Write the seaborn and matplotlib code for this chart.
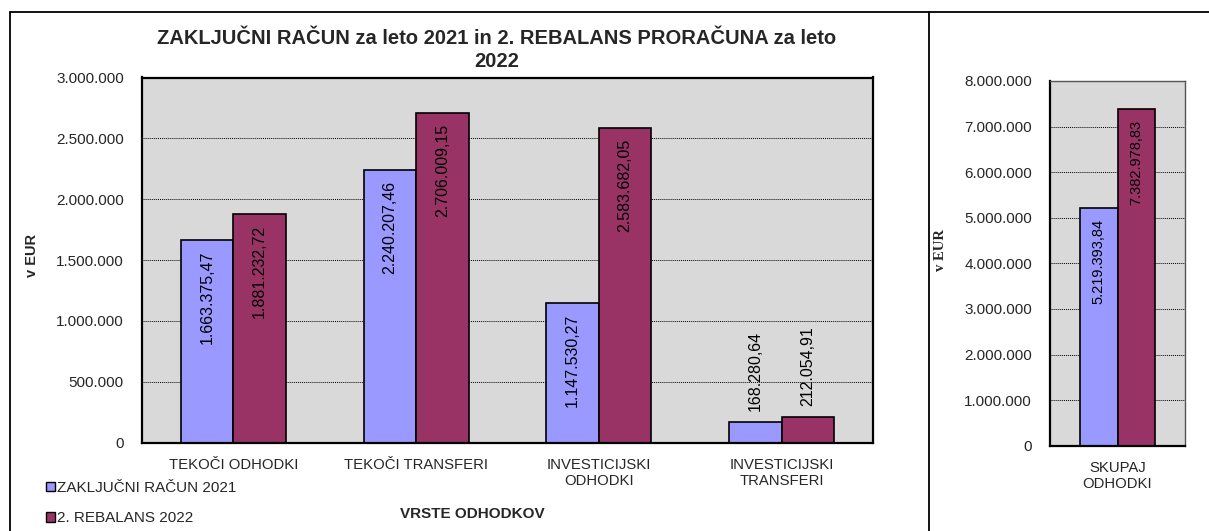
import matplotlib
matplotlib.use("Agg")
import matplotlib.pyplot as plt
import seaborn as sns
import pandas as pd
from matplotlib.ticker import FuncFormatter, FixedLocator
from matplotlib.patches import Patch
from matplotlib.lines import Line2D

# ---------------- data ----------------
categories = ["TEKOČI ODHODKI", "TEKOČI TRANSFERI", "INVESTICIJSKI\nODHODKI", "INVESTICIJSKI\nTRANSFERI"]
series_names = ["ZAKLJUČNI RAČUN 2021", "2. REBALANS 2022"]
zr2021 = [1663375.47, 2240207.46, 1147530.27, 168280.64]
reb2022 = [1881232.72, 2706009.15, 2583682.05, 212054.91]
total_category = ["SKUPAJ\nODHODKI"]
total_zr2021 = [5219393.84]
total_reb2022 = [7382978.83]
left_yticks = [0, 500000, 1000000, 1500000, 2000000, 2500000, 3000000]
right_yticks = [0, 1000000, 2000000, 3000000, 4000000, 5000000, 6000000, 7000000, 8000000]
title_text = "ZAKLJUČNI RAČUN za leto 2021 in 2. REBALANS PRORAČUNA za leto\n2022"
xlabel_text = "VRSTE ODHODKOV"
ylabel_text = "v EUR"

colors = ["#9999FF", "#993366"]

sns.set_style("white")
plt.rcParams["font.family"] = ["Liberation Sans", "DejaVu Sans"]

df_left = pd.DataFrame({
    "kategorija": categories * 2,
    "serija": [series_names[0]] * 4 + [series_names[1]] * 4,
    "vrednost": zr2021 + reb2022,
})
df_right = pd.DataFrame({
    "kategorija": total_category * 2,
    "serija": series_names,
    "vrednost": total_zr2021 + total_reb2022,
})

W, H = 1209, 531
fig = plt.figure(figsize=(W / 100, H / 100), dpi=100)
fig.patch.set_facecolor("white")

def fx(px):
    return px / W

def fy(py):
    return 1 - py / H

ax1 = fig.add_axes([fx(142), fy(442.5), fx(873) - fx(142), fy(77.5) - fy(442.5)])
ax2 = fig.add_axes([fx(1050), fy(445.7), fx(1185) - fx(1050), fy(81) - fy(445.7)])

def fmt_tick(v, _):
    return f"{int(round(v)):,}".replace(",", ".")

def fmt_val(v):
    s = f"{v:,.2f}"
    return s.replace(",", "X").replace(".", ",").replace("X", ".")

def style_axis(ax, df, width, ymax, yticks, label_fs, spine_top_color, spine_top_lw):
    sns.barplot(data=df, x="kategorija", y="vrednost", hue="serija", palette=colors,
                hue_order=series_names, order=list(dict.fromkeys(df["kategorija"])),
                width=width, edgecolor="black", linewidth=1.2, ax=ax, legend=False,
                errorbar=None, saturation=1)
    ax.set_facecolor("#D9D9D9")
    ax.set_ylim(0, ymax)
    n = df["kategorija"].nunique()
    ax.set_xlim(-0.5, n - 0.5)
    ax.yaxis.set_major_locator(FixedLocator(yticks))
    ax.yaxis.set_major_formatter(FuncFormatter(fmt_tick))
    ax.grid(axis="y", color="black", linestyle=(0, (1, 1)), linewidth=0.7)
    ax.set_axisbelow(True)
    ax.tick_params(axis="y", direction="out", length=4, width=1, color="black",
                   labelsize=11, pad=9)
    ax.tick_params(axis="x", which="major", length=0, labelsize=10.7, pad=11)
    ax.set_xticks([i - 0.5 for i in range(n + 1)], minor=True)
    ax.tick_params(axis="x", which="minor", length=5, width=1, color="#777777", direction="out")
    for lbl in ax.get_xticklabels():
        lbl.set_linespacing(1.2)
    ax.set_xlabel("")
    ax.set_ylabel("")
    for s in ["left", "bottom"]:
        ax.spines[s].set_color("black")
        ax.spines[s].set_linewidth(1.6)
    for s in ["top", "right"]:
        ax.spines[s].set_color(spine_top_color)
        ax.spines[s].set_linewidth(spine_top_lw)
    # value labels
    for cont in ax.containers:
        for bar in cont:
            h = bar.get_height()
            xc = bar.get_x() + bar.get_width() / 2
            if h / ymax > 0.3:
                ax.annotate(fmt_val(h), xy=(xc, h), xytext=(0, -11), textcoords="offset pixels",
                            rotation=90, ha="center", va="top", fontsize=label_fs, color="black")
            else:
                ax.annotate(fmt_val(h), xy=(xc, h), xytext=(0, 11), textcoords="offset pixels",
                            rotation=90, ha="center", va="bottom", fontsize=label_fs, color="black")

style_axis(ax1, df_left, 0.575, 3000000, left_yticks, 11.5, "black", 1.6)
style_axis(ax2, df_right, 0.56, 8000000, right_yticks, 10.5, "#555555", 1.0)

# titles / labels
fig.text(fx(497), fy(29), title_text, ha="center", va="top", fontsize=14.5, fontweight="bold",
         linespacing=1.25)
fig.text(fx(472), fy(514), xlabel_text, ha="center", va="center", fontsize=11, fontweight="bold")
fig.text(fx(32), fy(256), ylabel_text, ha="center", va="center", rotation=90, fontsize=10.5,
         fontweight="bold")
fig.text(fx(940), fy(250), ylabel_text, ha="center", va="center", rotation=90, fontsize=10.5,
         fontweight="bold", family=["Liberation Serif", "DejaVu Serif"])

# legend
handles = [Patch(facecolor=c, edgecolor="black", linewidth=1.0) for c in colors]
fig.legend(handles, series_names, loc="upper left", bbox_to_anchor=(fx(46), fy(481)),
           frameon=False, fontsize=11, handlelength=0.6, handleheight=0.6,
           handletextpad=0.15, labelspacing=1.05, borderaxespad=0, borderpad=0)

# outer frame lines
lw = 1.3
fig.add_artist(Line2D([fx(10), 1.0], [fy(12), fy(12)], color="black", linewidth=lw))
fig.add_artist(Line2D([fx(10), fx(10)], [fy(12), 0], color="black", linewidth=lw))
fig.add_artist(Line2D([fx(929), fx(929)], [fy(12), 0], color="black", linewidth=lw))

fig.savefig("out.png", dpi=100, facecolor="white")
